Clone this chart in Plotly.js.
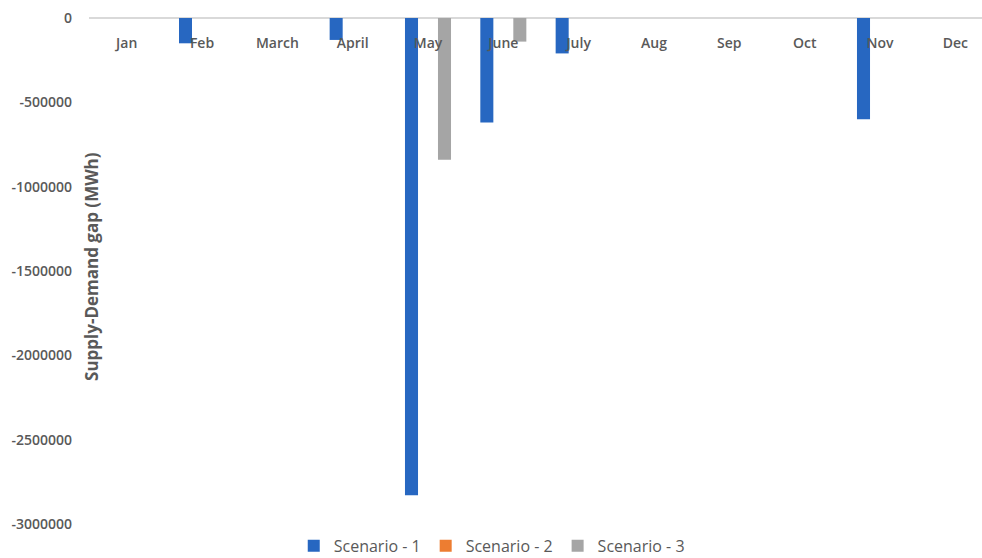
<!DOCTYPE html>
<html>
<head>
<meta charset="utf-8">
<script src="https://cdn.plot.ly/plotly-3.0.1.min.js"></script>
<style>
  html, body { margin: 0; padding: 0; background: #fff; overflow: hidden; }
  #chart { width: 982px; height: 558px; }
</style>
</head>
<body>
<div id="chart"></div>
<script>
// Monthly supply-demand gap per scenario (MWh)
const months = ["Jan", "Feb", "March", "April", "May", "June", "July", "Aug", "Sep", "Oct", "Nov", "Dec"];
const scenario1 = [0, -150000, 0, -130000, -2830000, -620000, -210000, 0, 0, 0, -600000, 0];
const scenario2 = [0, 0, 0, 0, 0, 0, 0, 0, 0, 0, 0, 0];
const scenario3 = [0, 0, 0, 0, -840000, -140000, 0, 0, 0, 0, 0, 0];
const seriesNames = ["Scenario - 1", "Scenario - 2", "Scenario - 3"];
const yTicks = [0, -500000, -1000000, -1500000, -2000000, -2500000, -3000000];

const textColor = "#595959";
const colors = ["#2767C1", "#ED7D31", "#A5A5A5"];

const traces = [scenario1, scenario2, scenario3].map((vals, i) => ({
  type: "bar",
  name: seriesNames[i],
  x: months,
  y: vals,
  marker: { color: colors[i] },
  hoverinfo: "x+y+name"
}));

const layout = {
  width: 982,
  height: 558,
  margin: { l: 89, r: 0, t: 18, b: 34, pad: 0, autoexpand: false },
  paper_bgcolor: "#ffffff",
  plot_bgcolor: "#ffffff",
  barmode: "group",
  bargap: 0.343,
  bargroupgap: 0.21,
  font: { family: "Open Sans, sans-serif", color: textColor },
  xaxis: {
    type: "category",
    range: [-0.5, 11.354],
    anchor: "free",
    position: 1,
    side: "bottom",
    showline: false,
    showgrid: false,
    zeroline: false,
    ticks: "",
    ticklabelstandoff: 15,
    tickfont: { family: "Open Sans, sans-serif", size: 14, weight: 600, color: textColor },
    automargin: false,
    fixedrange: true
  },
  yaxis: {
    range: [-3000000, 0],
    tickvals: yTicks,
    ticktext: yTicks.map(v => String(v)),
    showgrid: false,
    zeroline: true,
    zerolinecolor: "#d9d9d9",
    zerolinewidth: 1.5,
    showline: false,
    ticks: "",
    ticklabelstandoff: 16,
    tickfont: { family: "Open Sans, sans-serif", size: 14, weight: 600, color: textColor },
    automargin: false,
    fixedrange: true
  },
  legend: {
    orientation: "h",
    x: 0.451,
    xanchor: "center",
    y: -0.077,
    yanchor: "bottom",
    font: { family: "Open Sans, sans-serif", size: 16, color: textColor },
    itemwidth: 30,
    traceorder: "normal"
  },
  annotations: [{
    text: "Supply-Demand gap (MWh)",
    xref: "paper",
    yref: "paper",
    x: 0.0034,
    y: 0.508,
    xanchor: "center",
    yanchor: "middle",
    textangle: -90,
    showarrow: false,
    font: { family: "Open Sans, sans-serif", size: 17, weight: 700, color: textColor }
  }],
  showlegend: true
};

Plotly.newPlot("chart", traces, layout, { displayModeBar: false, staticPlot: true });
</script>
</body>
</html>
